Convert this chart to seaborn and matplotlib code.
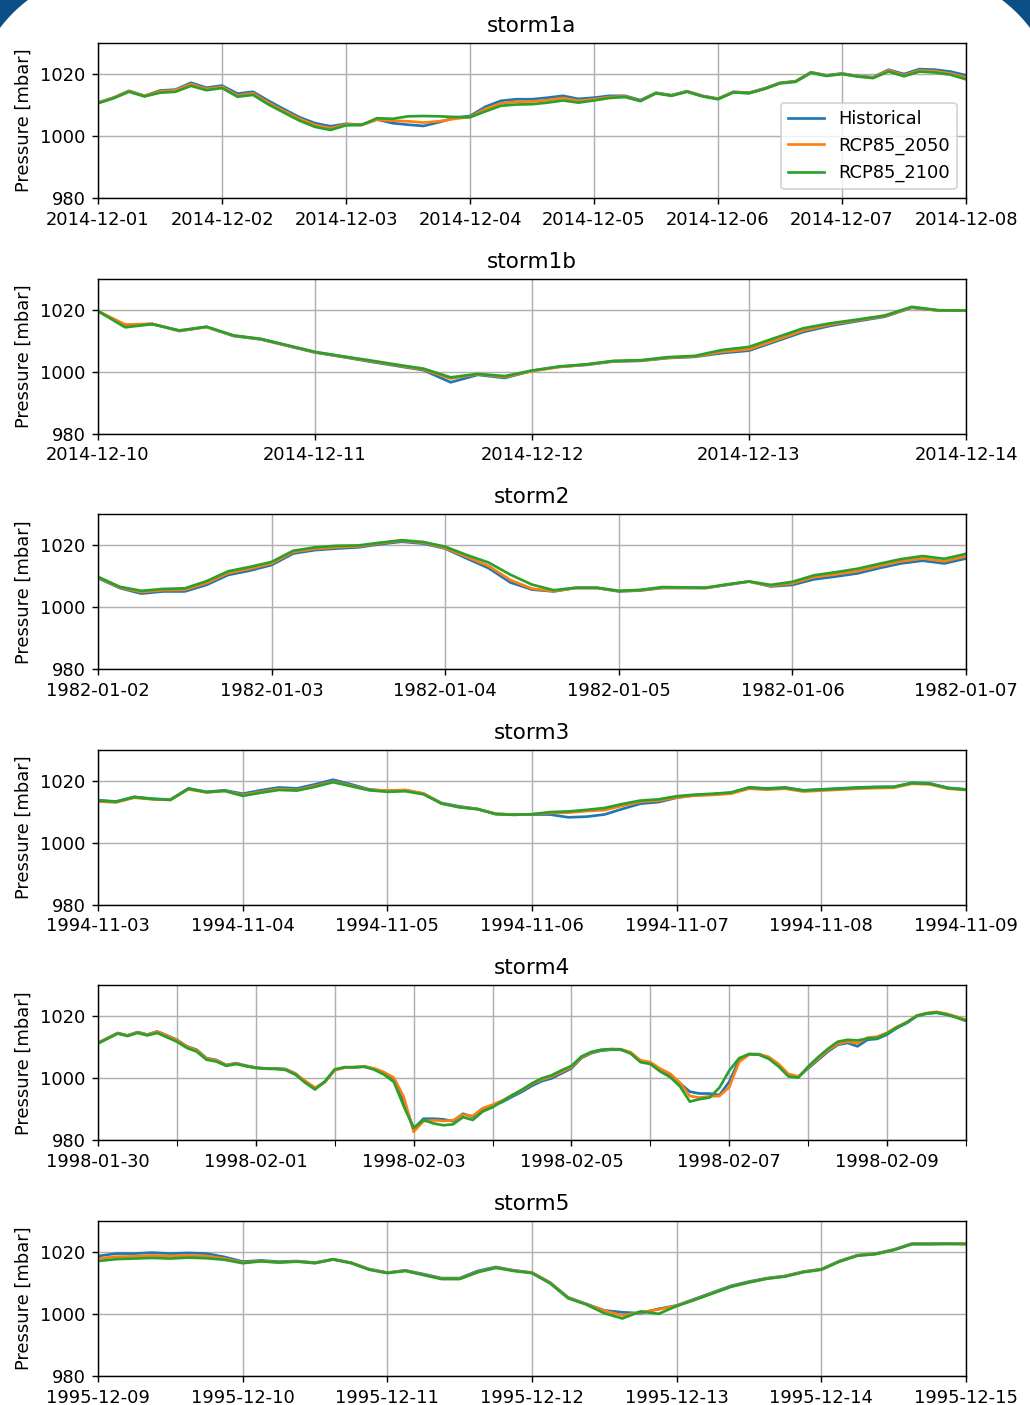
import numpy as np
import pandas as pd
import matplotlib
matplotlib.use("Agg")
import matplotlib.pyplot as plt
import matplotlib.dates as mdates
from matplotlib.patches import Polygon
import seaborn as sns

storm_names = ["storm1a", "storm1b", "storm2", "storm3", "storm4", "storm5"]
start_dates = ["2014-12-01", "2014-12-10", "1982-01-02", "1994-11-03", "1998-01-30", "1995-12-09"]
scenarios = ["Historical", "RCP85_2050", "RCP85_2100"]
colors = ["#1f77b4", "#ff7f0e", "#2ca02c"]

# 3-hourly sea level pressure [mbar]
storm1a_hist = [1010.8, 1012.4, 1014.6, 1013.0, 1014.7, 1015.0, 1017.2, 1015.6,
                1016.3, 1013.7, 1014.3, 1011.4, 1008.7, 1006.1, 1004.2, 1003.2,
                1004.0, 1003.7, 1005.4, 1004.2, 1003.7, 1003.3, 1004.5, 1005.9,
                1006.5, 1009.5, 1011.4, 1011.9, 1011.9, 1012.4, 1013.0, 1012.0,
                1012.4, 1013.0, 1013.0, 1011.6, 1014.0, 1013.2, 1014.5, 1013.0,
                1012.1, 1014.3, 1014.0, 1015.4, 1017.2, 1017.7, 1020.6, 1019.6,
                1020.2, 1019.4, 1019.0, 1021.4, 1020.0, 1021.6, 1021.4, 1020.8,
                1019.6]
storm1a_2050 = [1010.8, 1012.4, 1014.5, 1013.0, 1014.4, 1014.8, 1016.8, 1015.2,
                1015.9, 1013.1, 1013.8, 1010.8, 1008.1, 1005.6, 1003.6, 1002.6,
                1003.8, 1003.6, 1005.3, 1005.0, 1004.8, 1004.4, 1004.8, 1005.6,
                1006.2, 1008.8, 1010.6, 1011.1, 1011.2, 1011.6, 1012.3, 1011.4,
                1011.9, 1012.6, 1012.8, 1011.4, 1013.9, 1013.1, 1014.4, 1012.9,
                1012.0, 1014.2, 1013.9, 1015.3, 1017.1, 1017.6, 1020.5, 1019.5,
                1020.1, 1019.3, 1018.9, 1021.2, 1019.6, 1021.2, 1020.9, 1020.2,
                1018.9]
storm1a_2100 = [1010.6, 1012.2, 1014.3, 1012.8, 1014.0, 1014.3, 1016.2, 1014.8,
                1015.5, 1012.7, 1013.3, 1010.2, 1007.6, 1005.0, 1003.0, 1002.0,
                1003.5, 1003.6, 1005.8, 1005.6, 1006.4, 1006.5, 1006.4, 1006.2,
                1006.1, 1008.0, 1009.8, 1010.2, 1010.3, 1010.8, 1011.5, 1010.8,
                1011.5, 1012.3, 1012.6, 1011.3, 1013.8, 1013.0, 1014.3, 1012.8,
                1011.9, 1014.1, 1013.8, 1015.2, 1017.0, 1017.5, 1020.4, 1019.4,
                1020.0, 1019.2, 1018.7, 1020.8, 1019.3, 1020.8, 1020.5, 1019.8,
                1018.3]

storm1b_hist = [1019.5, 1015.0, 1015.4, 1013.1, 1014.4, 1011.5, 1010.4, 1008.3,
                1006.2, 1004.8, 1003.3, 1001.9, 1000.5, 996.6, 999.0, 998.0,
                1000.3, 1001.6, 1002.2, 1003.3, 1003.5, 1004.4, 1004.8, 1006.0,
                1006.8, 1009.8, 1012.8, 1014.8, 1016.3, 1017.7, 1020.6, 1019.7,
                1019.7]
storm1b_2050 = [1019.5, 1015.2, 1015.4, 1013.2, 1014.4, 1011.6, 1010.5, 1008.4,
                1006.3, 1004.9, 1003.5, 1002.1, 1000.7, 997.8, 999.2, 998.3,
                1000.2, 1001.5, 1002.3, 1003.4, 1003.6, 1004.5, 1004.9, 1006.4,
                1007.2, 1010.2, 1013.3, 1015.2, 1016.6, 1017.9, 1020.7, 1019.7,
                1019.7]
storm1b_2100 = [1019.5, 1014.3, 1015.3, 1013.3, 1014.5, 1011.7, 1010.6, 1008.5,
                1006.4, 1005.0, 1003.7, 1002.3, 1001.0, 998.2, 999.3, 998.6,
                1000.4, 1001.7, 1002.4, 1003.5, 1003.7, 1004.7, 1005.1, 1007.0,
                1008.0, 1011.0, 1014.0, 1015.6, 1016.8, 1018.1, 1020.9, 1019.8,
                1019.7]

storm2_hist = [1009.4, 1006.2, 1004.4, 1005.1, 1005.1, 1007.2, 1010.4, 1011.8,
               1013.6, 1017.3, 1018.4, 1018.9, 1019.3, 1020.3, 1021.1, 1020.5,
               1018.9, 1015.7, 1012.6, 1008.0, 1005.7, 1005.1, 1006.2, 1006.2,
               1005.1, 1005.4, 1006.2, 1006.2, 1006.2, 1007.2, 1008.3, 1006.7,
               1007.2, 1009.0, 1009.9, 1010.9, 1012.6, 1014.1, 1015.0, 1014.1,
               1015.7]
storm2_2050 = [1009.6, 1006.4, 1004.9, 1005.5, 1005.6, 1007.8, 1011.0, 1012.4,
               1014.1, 1017.8, 1018.8, 1019.3, 1019.6, 1020.6, 1021.4, 1020.8,
               1019.1, 1016.2, 1013.3, 1008.8, 1006.0, 1005.2, 1006.2, 1006.2,
               1005.2, 1005.5, 1006.3, 1006.3, 1006.2, 1007.3, 1008.3, 1006.9,
               1007.7, 1009.7, 1010.6, 1011.6, 1013.3, 1014.8, 1015.7, 1014.8,
               1016.4]
storm2_2100 = [1009.8, 1006.6, 1005.3, 1005.9, 1006.1, 1008.4, 1011.6, 1013.0,
               1014.6, 1018.2, 1019.3, 1019.8, 1019.9, 1020.8, 1021.6, 1021.0,
               1019.5, 1016.8, 1014.4, 1010.5, 1007.3, 1005.5, 1006.3, 1006.3,
               1005.3, 1005.6, 1006.5, 1006.4, 1006.3, 1007.4, 1008.3, 1007.2,
               1008.2, 1010.3, 1011.3, 1012.4, 1014.0, 1015.5, 1016.5, 1015.6,
               1017.2]

storm3_hist = [1013.7, 1013.3, 1014.8, 1014.2, 1013.9, 1017.5, 1016.4, 1016.9,
               1015.8, 1016.9, 1017.8, 1017.5, 1018.8, 1020.3, 1018.8, 1017.2,
               1016.7, 1016.9, 1015.8, 1012.8, 1011.7, 1010.9, 1009.3, 1009.1,
               1009.1, 1009.1, 1008.2, 1008.4, 1009.1, 1010.9, 1012.6, 1013.1,
               1014.5, 1015.3, 1015.6, 1016.1, 1017.8, 1017.5, 1017.8, 1016.9,
               1017.2, 1017.5, 1017.8, 1018.0, 1018.0, 1019.3, 1019.1, 1017.7,
               1017.2]
storm3_2050 = [1013.3, 1013.0, 1014.5, 1014.0, 1013.8, 1017.2, 1016.2, 1016.7,
               1015.4, 1016.4, 1017.3, 1017.0, 1018.3, 1019.7, 1018.4, 1017.0,
               1016.8, 1017.0, 1015.9, 1012.7, 1011.5, 1010.8, 1009.4, 1009.0,
               1009.2, 1009.6, 1009.7, 1010.2, 1010.5, 1011.9, 1013.2, 1013.6,
               1014.6, 1015.2, 1015.4, 1015.8, 1017.4, 1017.1, 1017.4, 1016.5,
               1016.8, 1017.1, 1017.4, 1017.6, 1017.7, 1019.0, 1018.8, 1017.4,
               1017.0]
storm3_2100 = [1013.6, 1013.2, 1014.7, 1014.1, 1013.8, 1017.4, 1016.3, 1016.7,
               1015.1, 1016.1, 1017.0, 1016.8, 1018.0, 1019.5, 1018.2, 1016.9,
               1016.4, 1016.6, 1015.6, 1012.6, 1011.4, 1010.8, 1009.2, 1009.0,
               1009.2, 1009.9, 1010.1, 1010.6, 1011.2, 1012.5, 1013.6, 1014.0,
               1015.0, 1015.5, 1015.8, 1016.2, 1017.8, 1017.4, 1017.7, 1016.8,
               1017.1, 1017.4, 1017.7, 1017.9, 1018.0, 1019.2, 1019.0, 1017.6,
               1017.1]

storm4_hist = [1011.4, 1013.0, 1014.6, 1013.8, 1014.9, 1014.1, 1015.1, 1013.8,
               1012.4, 1010.3, 1009.2, 1006.5, 1005.9, 1004.3, 1004.9, 1004.1,
               1003.5, 1003.2, 1003.2, 1003.0, 1001.6, 998.9, 996.8, 998.9,
               1002.7, 1003.5, 1003.5, 1003.8, 1003.0, 1001.6, 999.5, 992.4,
               983.8, 987.0, 987.0, 986.8, 986.2, 988.6, 987.6, 990.1,
               991.1, 992.4, 994.1, 995.7, 997.6, 999.1, 1000.0, 1001.6,
               1003.2, 1006.5, 1008.1, 1008.9, 1009.2, 1009.2, 1008.1, 1005.4,
               1004.9, 1002.7, 1001.1, 998.4, 995.7, 995.1, 995.1, 994.6,
               998.9, 1005.9, 1007.8, 1007.8, 1006.7, 1004.3, 1001.1, 1000.5,
               1003.2, 1005.9, 1008.6, 1010.8, 1011.4, 1010.3, 1012.4, 1012.7,
               1014.1, 1016.2, 1017.8, 1020.0, 1020.8, 1021.1, 1020.5, 1019.7,
               1018.6]
storm4_2050 = [1011.4, 1013.0, 1014.5, 1013.8, 1014.8, 1014.0, 1015.0, 1013.7,
               1012.3, 1010.2, 1009.0, 1006.4, 1005.8, 1004.2, 1004.8, 1004.0,
               1003.4, 1003.1, 1003.1, 1002.9, 1001.5, 999.2, 997.0, 998.7,
               1002.6, 1003.4, 1003.6, 1003.9, 1003.2, 1002.0, 1000.2, 994.0,
               982.8, 986.2, 986.5, 986.3, 986.5, 988.3, 987.9, 990.4,
               991.5, 992.9, 994.6, 996.2, 998.2, 999.6, 1000.6, 1002.1,
               1003.6, 1006.7, 1008.3, 1009.1, 1009.4, 1009.4, 1008.4, 1005.8,
               1005.2, 1003.1, 1001.5, 998.6, 994.3, 993.8, 994.2, 994.3,
               997.2, 1005.3, 1007.6, 1007.7, 1006.9, 1004.6, 1001.4, 1000.6,
               1003.5, 1006.3, 1009.0, 1011.1, 1011.8, 1011.3, 1013.1, 1013.4,
               1014.7, 1016.6, 1018.1, 1020.2, 1021.0, 1021.4, 1020.8, 1019.9,
               1018.8]
storm4_2100 = [1011.2, 1012.8, 1014.4, 1013.6, 1014.6, 1013.8, 1014.6, 1013.2,
               1011.8, 1009.8, 1008.6, 1006.0, 1005.4, 1004.0, 1004.6, 1003.9,
               1003.3, 1003.1, 1003.0, 1002.7, 1001.2, 998.6, 996.4, 999.0,
               1002.9, 1003.6, 1003.6, 1003.7, 1002.8, 1001.2, 998.8, 991.0,
               984.0, 986.6, 985.5, 984.9, 985.2, 987.5, 986.6, 989.3,
               990.7, 992.6, 994.6, 996.4, 998.4, 1000.0, 1001.0, 1002.6,
               1004.0, 1007.0, 1008.5, 1009.2, 1009.4, 1009.3, 1008.0, 1005.2,
               1004.6, 1002.2, 1000.4, 997.4, 992.5, 993.3, 993.8, 997.0,
               1002.5, 1006.5, 1007.8, 1007.6, 1006.3, 1003.8, 1000.6, 1000.2,
               1003.8, 1006.8, 1009.5, 1011.8, 1012.4, 1012.2, 1012.8, 1013.0,
               1014.4, 1016.4, 1018.0, 1020.1, 1020.9, 1021.2, 1020.6, 1019.6,
               1018.5]

storm5_hist = [1018.6, 1019.4, 1019.4, 1019.7, 1019.4, 1019.6, 1019.4, 1018.3,
               1016.8, 1017.2, 1016.8, 1017.0, 1016.5, 1017.6, 1016.5, 1014.4,
               1013.3, 1014.0, 1012.8, 1011.5, 1011.5, 1013.8, 1015.1, 1014.0,
               1013.3, 1010.1, 1005.3, 1003.2, 1001.1, 1000.5, 1000.2, 1001.6,
               1002.7, 1004.8, 1006.9, 1009.0, 1010.4, 1011.5, 1012.2, 1013.6,
               1014.4, 1017.0, 1018.9, 1019.4, 1020.7, 1022.6, 1022.6, 1022.6,
               1022.6]
storm5_2050 = [1017.8, 1018.4, 1018.5, 1018.8, 1018.6, 1018.8, 1018.6, 1017.8,
               1016.5, 1017.0, 1016.6, 1016.9, 1016.4, 1017.5, 1016.4, 1014.3,
               1013.2, 1013.9, 1012.6, 1011.3, 1011.3, 1013.5, 1014.9, 1013.9,
               1013.2, 1010.0, 1005.2, 1003.1, 1001.0, 999.5, 1000.5, 1001.4,
               1002.6, 1004.6, 1006.7, 1008.8, 1010.2, 1011.4, 1012.1, 1013.5,
               1014.3, 1016.9, 1018.8, 1019.3, 1020.6, 1022.5, 1022.5, 1022.5,
               1022.6]
storm5_2100 = [1017.0, 1017.6, 1017.8, 1018.0, 1017.8, 1018.1, 1017.9, 1017.4,
               1016.3, 1016.9, 1016.5, 1016.8, 1016.3, 1017.5, 1016.3, 1014.2,
               1013.1, 1013.8, 1012.5, 1011.2, 1011.2, 1013.4, 1014.8, 1013.8,
               1013.1, 1009.8, 1005.0, 1003.0, 1000.2, 998.5, 1000.8, 1000.0,
               1002.5, 1004.5, 1006.6, 1008.7, 1010.1, 1011.3, 1012.0, 1013.4,
               1014.2, 1016.8, 1018.7, 1019.2, 1020.5, 1022.4, 1022.4, 1022.5,
               1022.4]

storm_series = [
    (storm1a_hist, storm1a_2050, storm1a_2100),
    (storm1b_hist, storm1b_2050, storm1b_2100),
    (storm2_hist, storm2_2050, storm2_2100),
    (storm3_hist, storm3_2050, storm3_2100),
    (storm4_hist, storm4_2050, storm4_2100),
    (storm5_hist, storm5_2050, storm5_2100),
]

W, H, DPI = 1030, 1405, 129
fig, axes = plt.subplots(6, 1, figsize=(W / DPI, H / DPI), dpi=DPI)
fig.subplots_adjust(left=98 / W, right=966 / W, top=1 - 43 / H,
                    bottom=1 - 1376 / H, hspace=0.516)

for i, (ax, name, start, series) in enumerate(zip(axes, storm_names, start_dates, storm_series)):
    frames = []
    for scen, vals in zip(scenarios, series):
        t = pd.date_range(start, periods=len(vals), freq="3h")
        frames.append(pd.DataFrame({"time": t, "pressure": vals, "scenario": scen}))
    df = pd.concat(frames, ignore_index=True)
    sns.lineplot(data=df, x="time", y="pressure", hue="scenario", hue_order=scenarios,
                 palette=colors, ax=ax, legend=(i == 0), estimator=None, linewidth=1.5)
    ax.set_xlim(df["time"].min(), df["time"].max())
    ax.set_ylim(980, 1030)
    ax.set_yticks([980, 1000, 1020])
    ax.set_ylabel("Pressure [mbar]")
    ax.set_xlabel("")
    ax.set_title(name)
    fmt = mdates.DateFormatter("%Y-%m-%d")
    if name == "storm4":
        ax.xaxis.set_major_locator(mdates.DayLocator(bymonthday=[30, 1, 3, 5, 7, 9]))
        ax.xaxis.set_minor_locator(mdates.DayLocator())
        ax.tick_params(axis="x", which="minor", length=3.5)
        ax.grid(True, which="both")
    else:
        ax.xaxis.set_major_locator(mdates.DayLocator())
        ax.grid(True)
    ax.xaxis.set_major_formatter(fmt)
    if i == 0:
        sns.move_legend(ax, "lower right", title=None)

# dark rounded window corners of the screenshot (decoration)
corner_color = "#0b4f86"
cx, R = 111.5, 139.3
ang = np.linspace(np.arctan2(-cx, 28 - cx), np.arctan2(-cx + 28, -cx), 30)
arc = np.column_stack([cx + R * np.cos(ang), cx + R * np.sin(ang)])
for mirror in (False, True):
    pts = np.vstack([[0, 0], arc, [0, 0]])
    xs = pts[:, 0]
    ys = pts[:, 1]
    if mirror:
        xs = W - xs
    fig.patches.append(Polygon(np.column_stack([xs / W, 1 - ys / H]), closed=True,
                               transform=fig.transFigure, facecolor=corner_color,
                               edgecolor="none", zorder=10))

fig.savefig("out.png", dpi=DPI)
